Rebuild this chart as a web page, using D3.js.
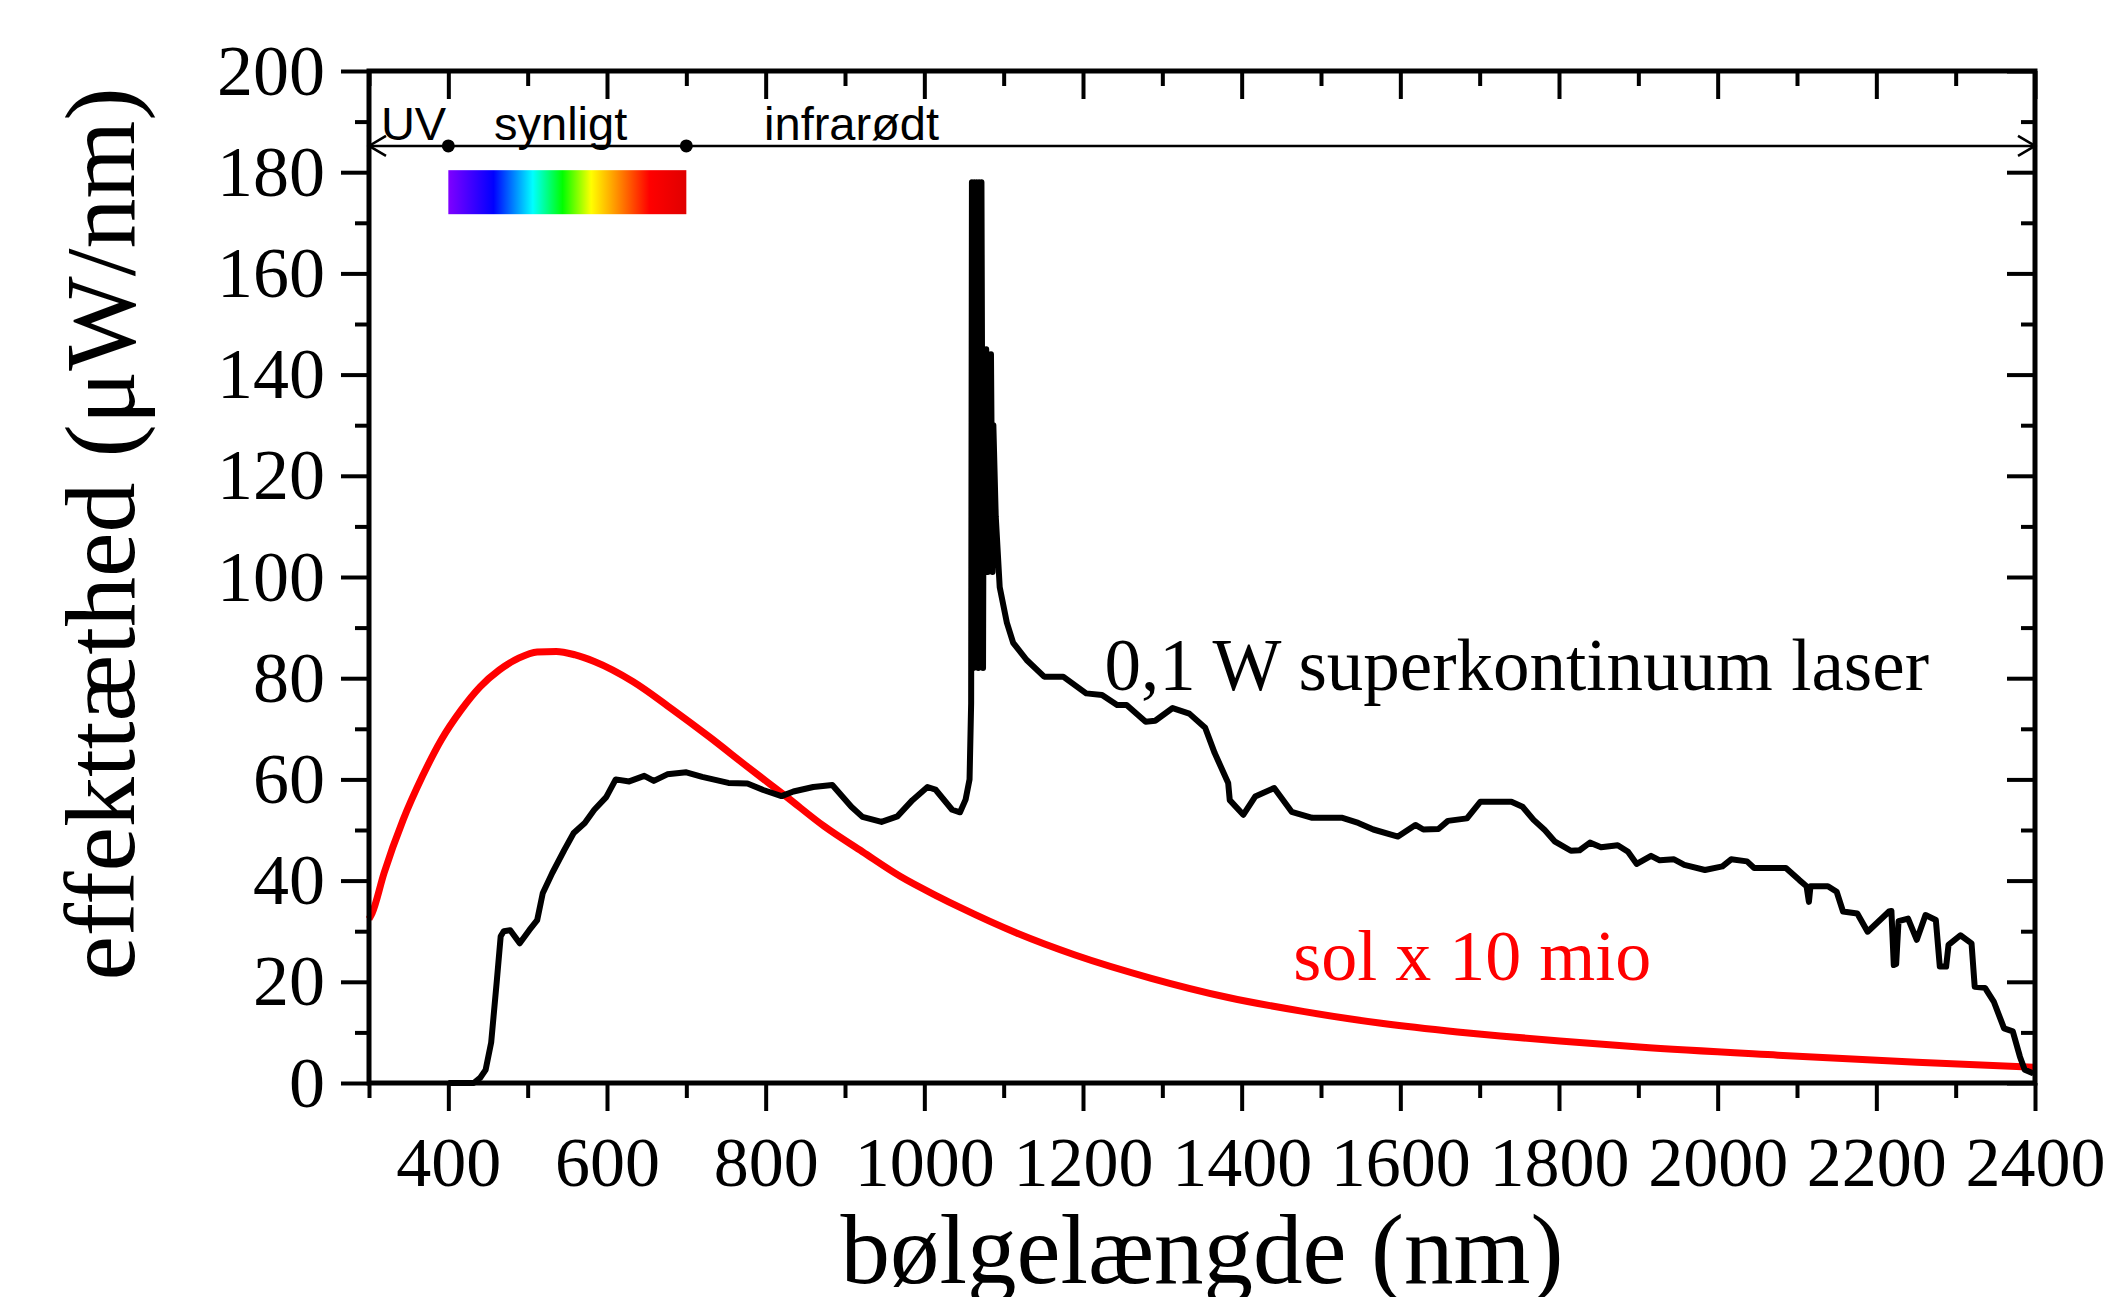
<!DOCTYPE html>
<html>
<head>
<meta charset="utf-8">
<script src="https://cdn.jsdelivr.net/npm/d3@7"></script>
<style>
  body { margin: 0; background: #fff; }
  svg { font-family: "Liberation Serif", "Times New Roman", serif; }
</style>
</head>
<body>
<div id="chart"></div>
<script>
// wavelength (nm) and power density (uW/nm)
var laserNm = [400, 432, 440, 447, 454, 461, 466, 470, 478, 490, 502, 512, 519, 531, 546, 558, 572, 584, 599, 611,
  628, 647, 659, 676, 700, 720, 753, 777, 797, 820, 835, 860, 884, 908, 922, 946, 966, 985, 1004, 1014,
  1035, 1045, 1052, 1057, 1059, 1060, 1062, 1063, 1065, 1066, 1068, 1069, 1071, 1072, 1074, 1075, 1077, 1078, 1080, 1081,
  1083, 1084, 1086, 1087, 1090, 1095, 1104, 1112, 1129, 1151, 1175, 1204, 1224, 1243, 1255, 1279, 1291, 1313, 1334, 1354, 1366,
  1383, 1385, 1402, 1417, 1441, 1463, 1489, 1527, 1547, 1566, 1597, 1619, 1629, 1648, 1660, 1684, 1701, 1740, 1754, 1768,
  1782, 1795, 1815, 1826, 1839, 1853, 1874, 1887, 1898, 1916, 1927, 1945, 1958, 1984, 2006, 2017, 2037, 2046, 2086, 2103,
  2112, 2115, 2117, 2139, 2150, 2158, 2176, 2189, 2216, 2219, 2222, 2225, 2228, 2240, 2251, 2262, 2275, 2280, 2288, 2291,
  2306, 2320, 2324, 2337, 2348, 2361, 2372, 2381, 2387, 2398];
var laserPower = [0, 0, 1, 2.6, 8, 20, 29, 30, 30.2, 27.6, 30.2, 32.2, 37.5, 41.5, 46, 49.4, 51.4, 54, 56.5, 60,
  59.6, 60.7, 59.7, 61, 61.4, 60.5, 59.3, 59.2, 57.9, 56.7, 57.6, 58.5, 58.9, 54.6, 52.6, 51.6, 52.7, 55.9, 58.5, 58,
  54, 53.5, 56, 60, 75, 178, 82, 178, 85, 178, 82, 178, 90, 178, 82, 140, 101, 145, 101, 144,
  102, 144, 101, 130, 112, 98, 91, 87, 83.6, 80.3, 80.3, 77, 76.7, 74.7, 74.7, 71.4, 71.6, 74.1, 73, 70.2, 65.2,
  59.3, 55.9, 53, 56.6, 58.3, 53.6, 52.4, 52.4, 51.4, 50.1, 48.7, 51, 50.1, 50.2, 51.8, 52.3, 55.6, 55.6, 54.6, 52,
  50, 47.7, 45.9, 46, 47.5, 46.6, 47, 45.7, 43.3, 44.9, 44, 44.2, 43.1, 42.1, 42.8, 44.2, 43.8, 42.5, 42.5, 40.1,
  38.9, 35.8, 38.9, 38.9, 37.8, 33.9, 33.5, 29.9, 33.9, 34, 23.3, 23.5, 32, 32.5, 28.3, 33.2, 32.2, 23, 23, 27.3,
  29.2, 27.6, 19, 18.8, 16.1, 10.8, 10.2, 5.2, 2.6, 1.9];

// sun spectrum x 10 million
var sunNm = [300, 304, 319, 343, 367, 391, 416, 440, 464, 488, 512, 536, 560, 584, 633, 681, 729, 777, 826, 874,
  922, 970, 1018, 1045, 1117, 1190, 1286, 1383, 1479, 1576, 1672, 1726, 1801, 1901, 2076, 2251, 2400];
var sunPower = [32.4, 33.6, 41.5, 52, 60.5, 67.8, 73.7, 78.3, 81.6, 83.9, 85.2, 85.3, 84.6, 83.3, 79.3, 74, 68.4, 62.5, 56.6, 50.7,
  45.7, 40.8, 36.8, 34.7, 29.6, 25.3, 20.7, 16.9, 14.1, 11.8, 10.1, 9.3, 8.3, 7.1, 5.5, 4.1, 3.1];

var xMajorTicks = [400, 600, 800, 1000, 1200, 1400, 1600, 1800, 2000, 2200, 2400];
var xMinorTicks = [300, 500, 700, 900, 1100, 1300, 1500, 1700, 1900, 2100, 2300];
var yMajorTicks = [0, 20, 40, 60, 80, 100, 120, 140, 160, 180, 200];
var yMinorTicks = [10, 30, 50, 70, 90, 110, 130, 150, 170, 190];

// visible band 400-700 nm, and the colours of the rainbow bar
var visibleBand = [400, 700];
var rainbowColors = ["#7f00ff", "#0000ff", "#00ffff", "#00ff00", "#ffff00", "#ff9900", "#ff0000", "#e00000"];
var rainbowOffsets = [0, 0.19, 0.355, 0.48, 0.6, 0.7, 0.845, 1];

var margin = {top: 71, right: 71, bottom: 214, left: 369},
    width = 2106 - margin.left - margin.right,
    height = 1297 - margin.top - margin.bottom;

var svg = d3.select("#chart")
  .append("svg")
    .attr("width", 2106)
    .attr("height", 1297)
  .append("g")
    .attr("transform", "translate(" + margin.left + "," + margin.top + ")");

var x = d3.scaleLinear().domain([300, 2400]).range([0, width]);
var y = d3.scaleLinear().domain([0, 200]).range([height, 0]);

// gradient for the visible spectrum bar
var defs = svg.append("defs");
var grad = defs.append("linearGradient")
    .attr("id", "rainbow")
    .attr("x1", "0%").attr("x2", "100%");
grad.selectAll("stop")
  .data(rainbowColors)
  .enter().append("stop")
    .attr("offset", function(d, i) { return rainbowOffsets[i]; })
    .attr("stop-color", function(d) { return d; });

// arrow heads
defs.append("marker")
    .attr("id", "arrowEnd")
    .attr("markerUnits", "userSpaceOnUse")
    .attr("markerWidth", 24).attr("markerHeight", 24)
    .attr("refX", 18).attr("refY", 12)
    .attr("orient", "auto")
  .append("path")
    .attr("d", "M1,2 L18,12 L1,22")
    .attr("fill", "none")
    .attr("stroke", "#000")
    .attr("stroke-width", 2.5);
defs.append("marker")
    .attr("id", "arrowStart")
    .attr("markerUnits", "userSpaceOnUse")
    .attr("markerWidth", 24).attr("markerHeight", 24)
    .attr("refX", 6).attr("refY", 12)
    .attr("orient", "auto")
  .append("path")
    .attr("d", "M23,2 L6,12 L23,22")
    .attr("fill", "none")
    .attr("stroke", "#000")
    .attr("stroke-width", 2.5);

// spectrum bar
svg.append("rect")
    .attr("x", x(visibleBand[0]))
    .attr("y", y(180.4))
    .attr("width", x(visibleBand[1]) - x(visibleBand[0]))
    .attr("height", y(171.7) - y(180.4))
    .attr("fill", "url(#rainbow)");

// double arrow UV / synligt / infrarødt
var arrowY = y(185.2);
svg.append("line")
    .attr("x1", x(300)).attr("x2", x(2400))
    .attr("y1", arrowY).attr("y2", arrowY)
    .attr("stroke", "#000")
    .attr("stroke-width", 2.5)
    .attr("marker-start", "url(#arrowStart)")
    .attr("marker-end", "url(#arrowEnd)");
svg.selectAll(".bandDot")
  .data(visibleBand)
  .enter().append("circle")
    .attr("class", "bandDot")
    .attr("cx", function(d) { return x(d); })
    .attr("cy", arrowY)
    .attr("r", 6.5)
    .attr("fill", "#000");

var bandText = svg.append("g")
    .style("font-family", "'Liberation Sans', Arial, sans-serif")
    .style("font-size", "47px");
bandText.append("text").attr("x", x(315)).attr("y", y(186.4)).text("UV");
bandText.append("text").attr("x", x(457.6)).attr("y", y(186.4)).text("synligt");
bandText.append("text").attr("x", x(798)).attr("y", y(186.4)).text("infrarødt");

// curves
var laser = laserNm.map(function(d, i) { return {nm: d, p: laserPower[i]}; });
var sun = sunNm.map(function(d, i) { return {nm: d, p: sunPower[i]}; });

svg.append("path")
    .datum(sun)
    .attr("fill", "none")
    .attr("stroke", "#ff0000")
    .attr("stroke-width", 7)
    .attr("d", d3.line()
      .curve(d3.curveMonotoneX)
      .x(function(d) { return x(d.nm); })
      .y(function(d) { return y(d.p); }));

svg.append("path")
    .datum(laser)
    .attr("fill", "none")
    .attr("stroke", "#000")
    .attr("stroke-width", 6)
    .attr("stroke-linejoin", "round")
    .attr("d", d3.line()
      .x(function(d) { return x(d.nm); })
      .y(function(d) { return y(d.p); }));

// curve labels
svg.append("text")
    .attr("x", x(1227)).attr("y", y(77.7))
    .style("font-size", "73px")
    .text("0,1 W superkontinuum laser");
svg.append("text")
    .attr("x", x(1465)).attr("y", y(20.4))
    .style("font-size", "72px")
    .attr("fill", "#ff0000")
    .text("sol x 10 mio");

// axes: bottom/left outward, top/right inward
function styleAxis(g) {
  g.select(".domain").remove();
  g.selectAll(".tick line").attr("stroke", "#000").attr("stroke-width", 4);
}

svg.append("g")
    .attr("transform", "translate(0," + height + ")")
    .call(d3.axisBottom(x).tickValues(xMajorTicks).tickSize(28).tickFormat(d3.format("d")))
    .call(styleAxis)
    .call(function(g) {
      g.selectAll("text")
        .attr("y", 103).attr("dy", null)
        .attr("fill", "#000")
        .style("font-family", "'Liberation Serif', serif")
        .style("font-size", "70px");
    });
svg.append("g")
    .attr("transform", "translate(0," + height + ")")
    .call(d3.axisBottom(x).tickValues(xMinorTicks).tickSize(15).tickFormat(""))
    .call(styleAxis);

svg.append("g")
    .call(d3.axisLeft(y).tickValues(yMajorTicks).tickSize(28).tickPadding(16))
    .call(styleAxis)
    .call(function(g) {
      g.selectAll("text")
        .attr("fill", "#000")
        .style("font-family", "'Liberation Serif', serif")
        .style("font-size", "72px");
    });
svg.append("g")
    .call(d3.axisLeft(y).tickValues(yMinorTicks).tickSize(14).tickFormat(""))
    .call(styleAxis);

// mirrored ticks on top and right, pointing into the plot
svg.append("g")
    .call(d3.axisBottom(x).tickValues(xMajorTicks).tickSize(28).tickFormat(""))
    .call(styleAxis);
svg.append("g")
    .call(d3.axisBottom(x).tickValues(xMinorTicks).tickSize(15).tickFormat(""))
    .call(styleAxis);
svg.append("g")
    .attr("transform", "translate(" + width + ",0)")
    .call(d3.axisLeft(y).tickValues(yMajorTicks).tickSize(28).tickFormat(""))
    .call(styleAxis);
svg.append("g")
    .attr("transform", "translate(" + width + ",0)")
    .call(d3.axisLeft(y).tickValues(yMinorTicks).tickSize(14).tickFormat(""))
    .call(styleAxis);

// frame
svg.append("rect")
    .attr("width", width)
    .attr("height", height)
    .attr("fill", "none")
    .attr("stroke", "#000")
    .attr("stroke-width", 5);

// axis titles
svg.append("text")
    .attr("x", width / 2)
    .attr("y", height + 200)
    .style("text-anchor", "middle")
    .style("font-size", "99px")
    .text("bølgelængde (nm)");

svg.append("text")
    .attr("transform", "rotate(-90)")
    .attr("x", -(534 - margin.top))
    .attr("y", 134 - margin.left)
    .style("text-anchor", "middle")
    .style("font-size", "100px")
    .text("effekttæthed (μW/nm)");
</script>
</body>
</html>
